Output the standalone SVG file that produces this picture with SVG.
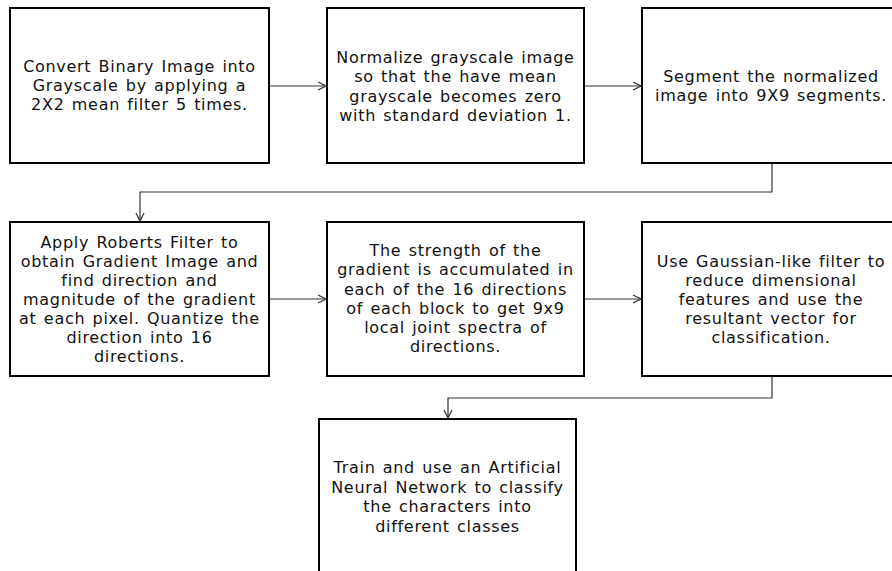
<svg xmlns="http://www.w3.org/2000/svg" width="892" height="571" viewBox="0 0 892 571">
<defs>
<style>
.box{fill:#fff;stroke:#000;stroke-width:2}
.t{font-family:"DejaVu Sans",Verdana,sans-serif;font-size:16px;letter-spacing:0.7px;word-spacing:1.5px;fill:#111;text-anchor:middle}
.c{fill:none;stroke:#333;stroke-width:1.2}
</style>
<marker id="ah" viewBox="0 0 10 10" refX="9" refY="5" markerWidth="10" markerHeight="10" markerUnits="userSpaceOnUse" orient="auto">
<path d="M1,1 L9,5 L1,9" fill="none" stroke="#333" stroke-width="1.2"/>
</marker>
</defs>
<rect width="892" height="571" fill="#fff"/>
<g id="connectors">
<line class="c" x1="269" y1="86" x2="326" y2="86" marker-end="url(#ah)"/>
<line class="c" x1="584" y1="86" x2="641" y2="86" marker-end="url(#ah)"/>
<polyline class="c" points="772,163 772,192 140,192 140,221" marker-end="url(#ah)"/>
<line class="c" x1="269" y1="299" x2="326" y2="299" marker-end="url(#ah)"/>
<line class="c" x1="584" y1="299" x2="641" y2="299" marker-end="url(#ah)"/>
<polyline class="c" points="772,376 772,398 448,398 448,418" marker-end="url(#ah)"/>
</g>
<g id="n1">
<rect class="box" x="10" y="8" width="259" height="155"/>
<text class="t"><tspan x="139.5" y="71.5">Convert Binary Image into</tspan><tspan x="139.5" y="90.5">Grayscale by applying a</tspan><tspan x="139.5" y="109.5">2X2 mean filter 5 times.</tspan></text>
</g>
<g id="n2">
<rect class="box" x="327" y="8" width="257" height="155"/>
<text class="t"><tspan x="455.5" y="62.5">Normalize grayscale image</tspan><tspan x="455.5" y="82">so that the have mean</tspan><tspan x="455.5" y="101.5">grayscale becomes zero</tspan><tspan x="455.5" y="120.5">with standard deviation 1.</tspan></text>
</g>
<g id="n3">
<rect class="box" x="642" y="8" width="260" height="155"/>
<text class="t"><tspan x="771" y="81.5">Segment the normalized</tspan><tspan x="771" y="100.5">image into 9X9 segments.</tspan></text>
</g>
<g id="n4">
<rect class="box" x="10" y="222" width="259" height="154"/>
<text class="t"><tspan x="139.5" y="247.5">Apply Roberts Filter to</tspan><tspan x="139.5" y="266.5">obtain Gradient Image and</tspan><tspan x="139.5" y="285.5">find direction and</tspan><tspan x="139.5" y="304.5">magnitude of the gradient</tspan><tspan x="139.5" y="323.5">at each pixel. Quantize the</tspan><tspan x="139.5" y="342.5">direction into 16</tspan><tspan x="139.5" y="361.5">directions.</tspan></text>
</g>
<g id="n5">
<rect class="box" x="327" y="222" width="257" height="154"/>
<text class="t"><tspan x="455.5" y="255.5">The strength of the</tspan><tspan x="455.5" y="275">gradient is accumulated in</tspan><tspan x="455.5" y="294.5">each of the 16 directions</tspan><tspan x="455.5" y="313.5">of each block to get 9x9</tspan><tspan x="455.5" y="332.5">local joint spectra of</tspan><tspan x="455.5" y="351.5">directions.</tspan></text>
</g>
<g id="n6">
<rect class="box" x="642" y="222" width="260" height="154"/>
<text class="t"><tspan x="771" y="266.5">Use Gaussian-like filter to</tspan><tspan x="771" y="285.5">reduce dimensional</tspan><tspan x="771" y="304.5">features and use the</tspan><tspan x="771" y="323.5">resultant vector for</tspan><tspan x="771" y="342.5">classification.</tspan></text>
</g>
<g id="n7">
<rect class="box" x="319" y="419" width="257" height="170"/>
<text class="t"><tspan x="447.5" y="472.5">Train and use an Artificial</tspan><tspan x="447.5" y="492.5">Neural Network to classify</tspan><tspan x="447.5" y="512">the characters into</tspan><tspan x="447.5" y="531.5">different classes</tspan></text>
</g>
</svg>
